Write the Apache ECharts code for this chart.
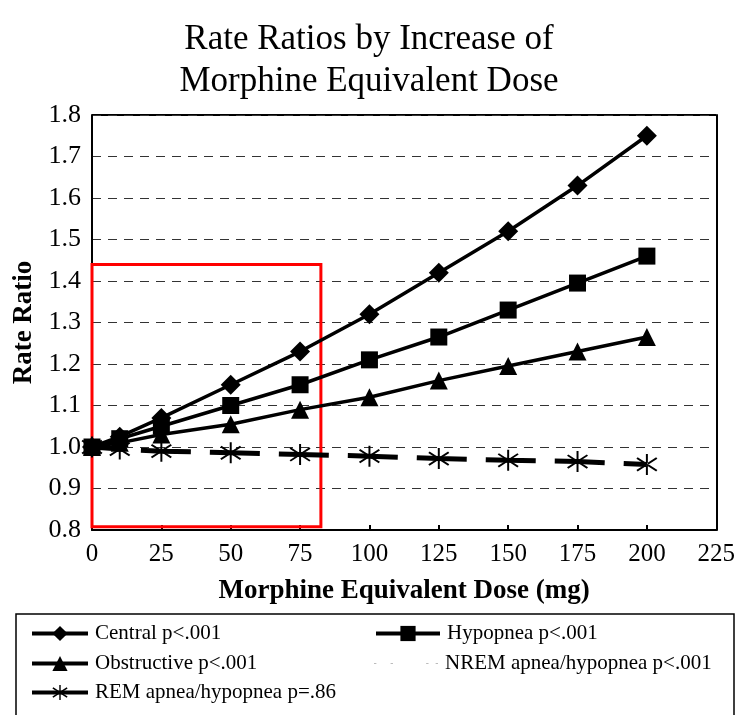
<!DOCTYPE html>
<html>
<head>
<meta charset="utf-8">
<script src="https://cdn.jsdelivr.net/npm/echarts@6/dist/echarts.min.js"></script>
<style>
  html, body { margin: 0; padding: 0; background: #fff; }
  #chart { width: 738px; height: 715px; }
</style>
</head>
<body>
<div id="chart"></div>
<script>
// dose (mg)
var doses = [0, 10, 25, 50, 75, 100, 125, 150, 175, 200];

// rate ratios
var central     = [1.00, 1.025, 1.07, 1.15, 1.23, 1.32, 1.42, 1.52, 1.63, 1.75];
var hypopnea    = [1.00, 1.02, 1.05, 1.10, 1.15, 1.21, 1.265, 1.33, 1.395, 1.46];
var obstructive = [1.00, 1.01, 1.03, 1.055, 1.09, 1.12, 1.16, 1.195, 1.23, 1.265];
var nremData    = [];
var remData     = [1.00, 0.995, 0.99, 0.986, 0.982, 0.978, 0.972, 0.968, 0.965, 0.958];

var seriesNames = ['Central p<.001', 'Hypopnea p<.001', 'Obstructive p<.001',
	'NREM apnea/hypopnea p<.001', 'REM apnea/hypopnea p=.86'];

// highlighted region (annotation box): dose 0-82.5, ratio 0.808-1.44
var boxX = [0, 82.5];
var boxY = [0.808, 1.44];

var serif = "'Liberation Serif', 'DejaVu Serif', serif";

function pairs(vals){
	var out = [];
	for (var i = 0; i < vals.length; i++) out.push([doses[i], vals[i]]);
	return out;
}

var asterisk = 'path://M9.2,0 L10.8,0 L10.8,20 L9.2,20 Z M1.5,4.6 L2.5,3.2 L18.5,15.4 L17.5,16.8 Z M1.5,15.4 L2.5,16.8 L18.5,4.6 L17.5,3.2 Z';
var faintDots = 'path://M0,9 L2,9 L2,10 L0,10 Z M14,9 L16,9 L16,10 L14,10 Z M44,9 L46,9 L46,10 L44,10 Z M52,9 L54,9 L54,10 L52,10 Z';

function legendAt(name, left, top, w){
	var item = { name: name, lineStyle: { type: 'solid', width: 4 } };
	if (name === seriesNames[3]) {
		item = { name: name, icon: faintDots, itemStyle: { color: '#bbb' } };
	}
	return {
		data: [item],
		left: left,
		top: top,
		itemWidth: w,
		itemHeight: 19,
		itemGap: 0,
		textStyle: { fontFamily: serif, fontSize: 21, color: '#000', padding: [0, 0, 0, 2] },
		selectedMode: false
	};
}

var chart = echarts.init(document.getElementById('chart'));
var frameBox = { type: 'rect', shape: { x: 16, y: 614, width: 718, height: 120 },
	style: { fill: 'none', stroke: '#000', lineWidth: 1.5 }, z: -1 };

var option = {
	animation: false,
	backgroundColor: '#fff',
	title: {
		text: 'Rate Ratios by Increase of\nMorphine Equivalent Dose',
		left: 'center',
		top: 14,
		textStyle: { fontFamily: serif, fontSize: 35, fontWeight: 'normal', color: '#000', lineHeight: 42 }
	},
	legend: [
		legendAt(seriesNames[0], 25, 618, 56),
		legendAt(seriesNames[1], 369, 618, 64),
		legendAt(seriesNames[2], 25, 648, 56),
		legendAt(seriesNames[3], 369, 648, 64),
		legendAt(seriesNames[4], 25, 677, 56)
	],
	graphic: [frameBox],
	grid: { left: 92, right: 21, top: 115, bottom: 185 },
	xAxis: {
		type: 'value',
		min: 0, max: 225, interval: 25,
		name: 'Morphine Equivalent Dose (mg)',
		nameLocation: 'middle',
		nameGap: 48,
		nameTextStyle: { fontFamily: serif, fontSize: 27, fontWeight: 'bold', color: '#000' },
		axisLine: { show: true, lineStyle: { color: '#000', width: 2 } },
		axisTick: { show: true, inside: true, length: 5, lineStyle: { color: '#000', width: 2 } },
		axisLabel: { fontFamily: serif, fontSize: 25, color: '#000', margin: 12 },
		splitLine: { show: false }
	},
	yAxis: [{
		type: 'value',
		min: 0.8, max: 1.8, interval: 0.1,
		name: 'Rate Ratio',
		nameLocation: 'middle',
		nameGap: 42,
		nameRotate: 90,
		nameTextStyle: { fontFamily: serif, fontSize: 27, fontWeight: 'bold', color: '#000' },
		axisLine: { show: true, lineStyle: { color: '#000', width: 2 } },
		axisTick: { show: false },
		axisLabel: { fontFamily: serif, fontSize: 26, color: '#000', margin: 11,
			formatter: function(v){ return v.toFixed(1); } },
		splitLine: { show: true, lineStyle: { color: '#333', type: [9, 7], width: 1 } }
	}, {
		// frame on the right side
		type: 'value', position: 'right', min: 0.8, max: 1.8,
		axisLine: { show: true, lineStyle: { color: '#000', width: 2 } },
		axisTick: { show: false }, axisLabel: { show: false }, splitLine: { show: false }
	}],
	series: [
		{
			name: seriesNames[0], type: 'line', data: pairs(central),
			symbol: 'diamond', symbolSize: 20,
			lineStyle: { color: '#000', width: 3.5 }, itemStyle: { color: '#000' }, z: 5
		},
		{
			name: seriesNames[1], type: 'line', data: pairs(hypopnea),
			symbol: 'rect', symbolSize: 17,
			lineStyle: { color: '#000', width: 3.5 }, itemStyle: { color: '#000' }, z: 5
		},
		{
			name: seriesNames[2], type: 'line', data: pairs(obstructive),
			symbol: 'triangle', symbolSize: 18,
			lineStyle: { color: '#000', width: 3.5 }, itemStyle: { color: '#000' }, z: 5
		},
		{
			name: seriesNames[3], type: 'line', data: nremData,
			symbol: 'none',
			lineStyle: { color: '#bbb', width: 1, type: 'dotted' }, itemStyle: { color: '#bbb' }
		},
		{
			name: seriesNames[4], type: 'line', data: pairs(remData),
			symbol: asterisk, symbolSize: 21,
			lineStyle: { color: '#000', width: 5, type: [50, 19], dashOffset: 20 },
			itemStyle: { color: '#000' }, z: 5
		},
		{
			// red annotation box
			type: 'line', data: [], silent: true,
			markArea: {
				silent: true,
				itemStyle: { color: 'rgba(0,0,0,0)', borderColor: '#f00', borderWidth: 3 },
				data: [[{ coord: [boxX[0], boxY[0]] }, { coord: [boxX[1], boxY[1]] }]]
			},
			z: 10
		}
	]
};
chart.setOption(option);

// top border of the plot frame
var tl = chart.convertToPixel({ gridIndex: 0 }, [0, 1.8]);
var tr = chart.convertToPixel({ gridIndex: 0 }, [225, 1.8]);
chart.setOption({
	graphic: [
		frameBox,
		{ type: 'line', shape: { x1: tl[0], y1: tl[1], x2: tr[0], y2: tr[1] },
		  style: { stroke: '#000', lineWidth: 2 } }
	]
});
</script>
</body>
</html>
